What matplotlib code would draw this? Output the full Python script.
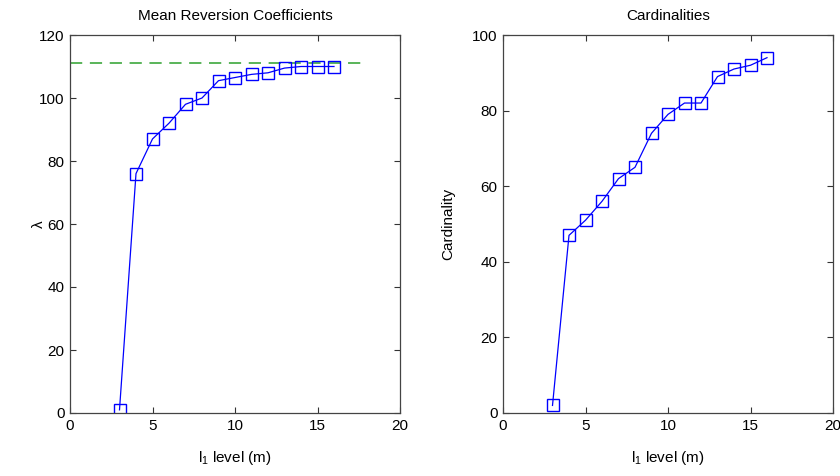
import numpy as np
import matplotlib.pyplot as plt

plt.rcParams['font.family'] = ['Liberation Sans', 'DejaVu Sans']
plt.rcParams['font.size'] = 11
plt.rcParams['mathtext.fontset'] = 'custom'
plt.rcParams['mathtext.rm'] = 'Liberation Sans'

# data
l1_level = [3, 4, 5, 6, 7, 8, 9, 10, 11, 12, 13, 14, 15, 16]
lambda_vals = [1, 76, 87, 92, 98, 100, 105.5, 106.5, 107.5, 108, 109.5, 110, 110, 110]
lambda_limit = 111
limit_x = [0, 18]
cardinality = [2, 47, 51, 56, 62, 65, 74, 79, 82, 82, 89, 91, 92, 94]

fig = plt.figure(figsize=(8.4, 4.76), dpi=100)
ax1 = fig.add_axes([70 / 840, 63 / 476, 330 / 840, 378 / 476])
ax2 = fig.add_axes([503 / 840, 63 / 476, 330 / 840, 378 / 476])

blue = '#0000ff'

ax1.plot(limit_x, [lambda_limit] * 2, color='#2ca02c', ls=(0, (8, 5)), lw=1.1)
ax1.plot(l1_level, lambda_vals, color=blue, lw=0.9, marker='s', ms=9,
         mfc='none', mec=blue, mew=1.0)
ax1.set_xlim(0, 20)
ax1.set_ylim(0, 120)
ax1.set_xticks([0, 5, 10, 15, 20])
ax1.set_yticks(np.arange(0, 121, 20))
ax1.set_title('Mean Reversion Coefficients', fontsize=11, pad=11)
ax1.set_ylabel('λ')
ax1.yaxis.set_label_coords(-0.072, 0.5)
ax1.set_xlabel(r'$\mathregular{l_1}$ level (m)', labelpad=12)

ax2.plot(l1_level, cardinality, color=blue, lw=0.9, marker='s', ms=9,
         mfc='none', mec=blue, mew=1.0)
ax2.set_xlim(0, 20)
ax2.set_ylim(0, 100)
ax2.set_xticks([0, 5, 10, 15, 20])
ax2.set_yticks(np.arange(0, 101, 20))
ax2.set_title('Cardinalities', fontsize=11, pad=11)
ax2.set_ylabel('Cardinality')
ax2.yaxis.set_label_coords(-0.145, 0.5)
ax2.set_xlabel(r'$\mathregular{l_1}$ level (m)', labelpad=12)

for ax in (ax1, ax2):
    ax.tick_params(direction='in', top=True, right=True, length=4, width=0.8,
                   color='#333333', labelsize=11, pad=4)
    for s in ax.spines.values():
        s.set_color('#444444')
        s.set_linewidth(0.9)

fig.savefig('out.png', dpi=100)
